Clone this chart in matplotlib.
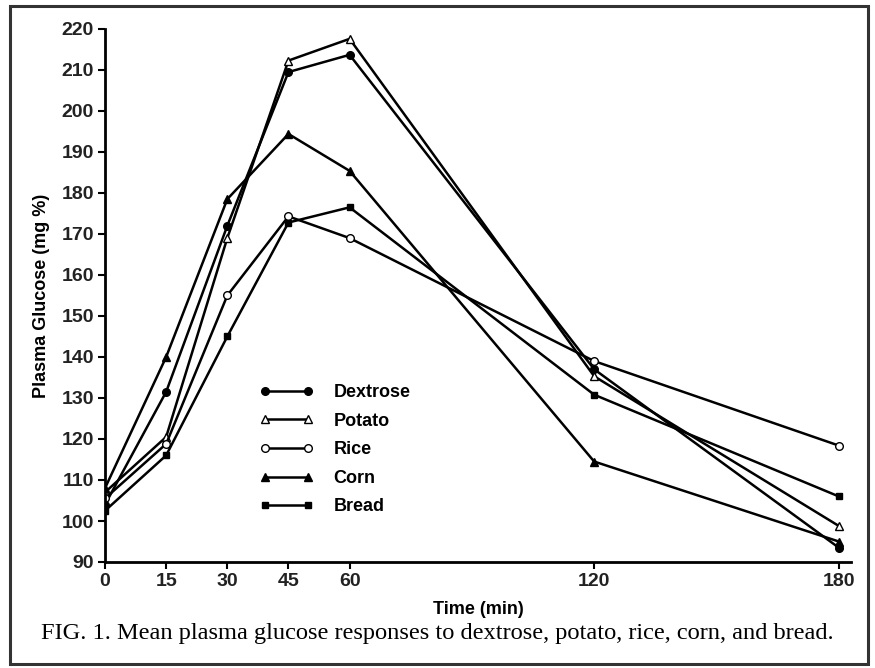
import matplotlib
matplotlib.use("Agg")
import matplotlib.pyplot as plt
from matplotlib.patches import Rectangle
from matplotlib.lines import Line2D

times = [0, 15, 30, 45, 60, 120, 180]
xticks = [0, 15, 30, 45, 60, 120, 180]
yticks = list(range(90, 221, 10))

dextrose = [104, 131.5, 172, 209.5, 213.7, 137, 93.5]
potato = [107, 120.5, 169, 212.3, 217.6, 135.3, 98.8]
rice = [105.5, 118.8, 155, 174.3, 169, 139, 118.4]
corn = [108, 140, 178.5, 194.4, 185.4, 114.5, 95]
bread = [102.5, 116, 145, 172.8, 176.5, 130.8, 106]

series = [
    ("Dextrose", dextrose, dict(marker="o", mfc="black", ms=5.5)),
    ("Potato", potato, dict(marker="^", mfc="white", ms=5.5)),
    ("Rice", rice, dict(marker="o", mfc="white", ms=5.5)),
    ("Corn", corn, dict(marker="^", mfc="black", ms=5.5)),
    ("Bread", bread, dict(marker="s", mfc="black", ms=5)),
]

plt.rcParams['font.family'] = ['Liberation Sans', 'DejaVu Sans']

fig = plt.figure(figsize=(8.75, 6.68), dpi=100)
ax = fig.add_axes([105/875, 1-562/668, (851-105)/875, (562-29)/668])

for name, vals, st in series:
    ax.plot(times, vals, color="black", lw=1.8, mec="black", mew=1.0,
            label=name, **st)

ax.set_xlim(0, 183)
ax.set_ylim(90, 220)
ax.set_xticks(xticks)
ax.set_yticks(yticks)
for s in ["top", "right"]:
    ax.spines[s].set_visible(False)
for s in ["left", "bottom"]:
    ax.spines[s].set_linewidth(2.0)
ax.tick_params(axis="both", direction="out", length=5, width=1.5,
               labelsize=14, pad=3)
for lab in ax.get_xticklabels() + ax.get_yticklabels():
    lab.set_fontweight("bold")
    lab.set_color("#222222")

ax.set_xlabel("Time (min)", fontsize=13, fontweight="bold", labelpad=8)
ax.set_ylabel("Plasma Glucose (mg %)", fontsize=13, fontweight="bold", labelpad=8)

handles = []
for name, vals, st in series:
    handles.append(Line2D([0], [0], color="black", lw=1.8, mec="black",
                          mew=1.0, **st))
leg = ax.legend(handles, [s[0] for s in series], loc="upper left",
                bbox_to_anchor=((243-105)/746, 1-(368-29)/533),
                frameon=False, handlelength=3.0, handletextpad=1.1,
                labelspacing=0.64, numpoints=2,
                prop=dict(size=13, weight="bold"))

fig.text(0.5, 1-633/668, "FIG. 1. Mean plasma glucose responses to dextrose, potato, rice, corn, and bread.",
         ha="center", va="center", fontsize=17.6, family="Liberation Serif")

fig.patches.append(Rectangle((10/875, 1-664/668), (868-10)/875, (664-6)/668,
                             transform=fig.transFigure, fill=False,
                             edgecolor="#333333", lw=2.2))

fig.savefig("out.png", dpi=100)
